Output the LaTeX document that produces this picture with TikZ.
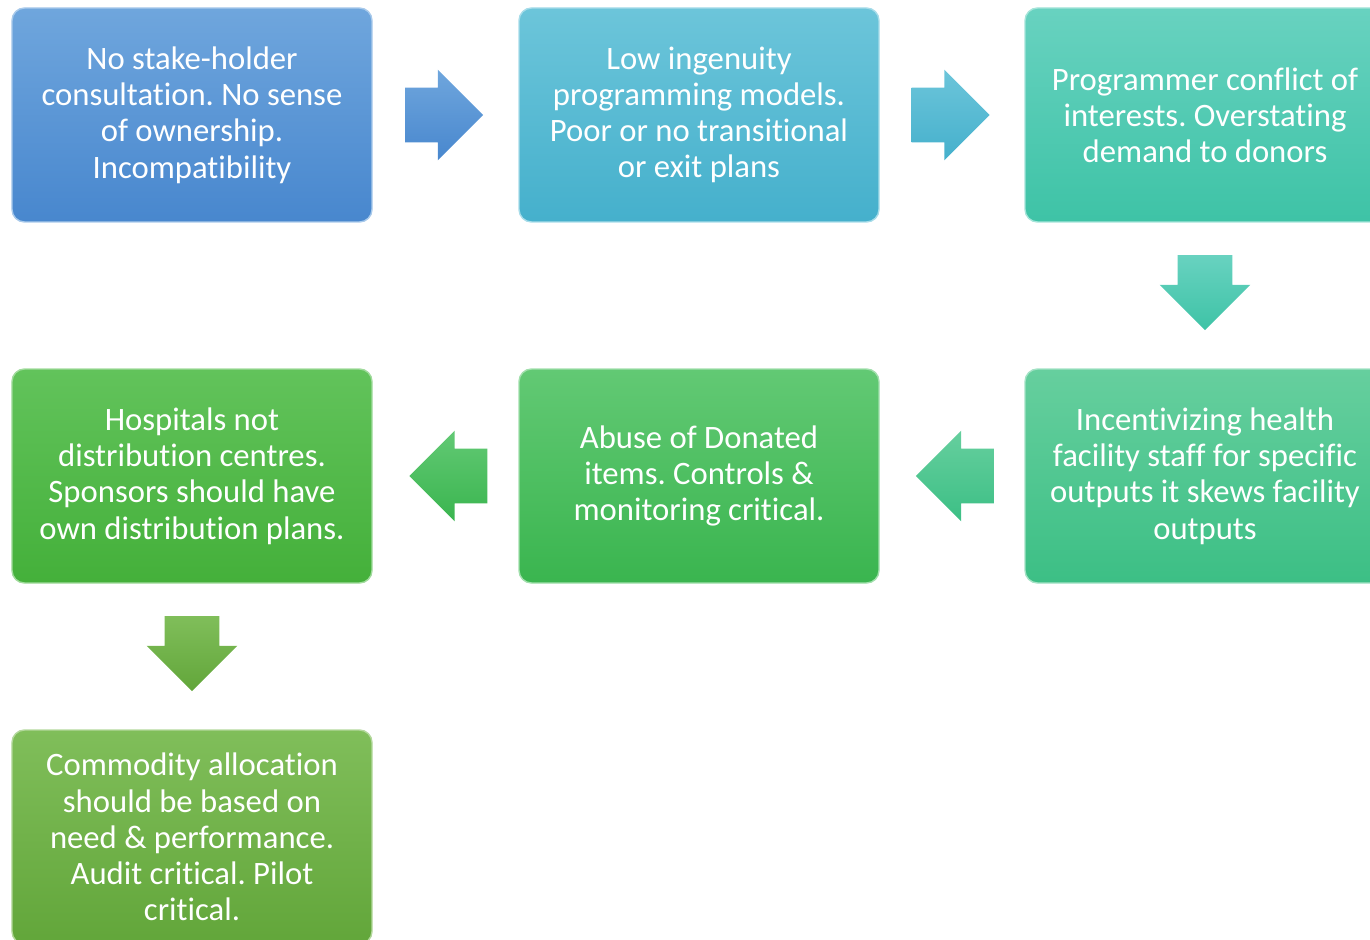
\documentclass[tikz,border=0pt]{standalone}
\usepackage{fontspec}
\setmainfont{Carlito}[Ligatures=NoCommon]
\frenchspacing
\usetikzlibrary{shapes, arrows, positioning}
\definecolor{blueTop}{HTML}{6FA6DD}
\definecolor{blueBot}{HTML}{4887CE}
\definecolor{cyanTop}{HTML}{6CC5DA}
\definecolor{cyanBot}{HTML}{45B0CC}
\definecolor{tealTop}{HTML}{68D2C0}
\definecolor{tealBot}{HTML}{3EC3A6}
\definecolor{mintTop}{HTML}{66CF9E}
\definecolor{mintBot}{HTML}{3CBF85}
\definecolor{greenTop}{HTML}{62C974}
\definecolor{greenBot}{HTML}{3AB54F}
\definecolor{leafTop}{HTML}{62C35B}
\definecolor{leafBot}{HTML}{44B03A}
\definecolor{oliveTop}{HTML}{80BE5A}
\definecolor{oliveBot}{HTML}{62A63A}

\begin{document}
\begin{tikzpicture}[
        issue/.style={rectangle, rounded corners=0.25cm, minimum width=7.2cm, minimum height=4.28cm, align=center, text=white, font=\fontsize{18.6}{20.6}\selectfont, line width=0.8pt},
        blockarrow/.style={single arrow, single arrow head extend=0.36cm, minimum width=1.8cm, minimum height=1.56cm, draw=none},
        rightarrow/.style={blockarrow, inner xsep=0pt, inner ysep=0.54cm, xshift=-0.3cm},
        leftarrow/.style={blockarrow, shape border rotate=180, inner xsep=0pt, inner ysep=0.54cm, xshift=0.33cm},
        downarrow/.style={blockarrow, shape border rotate=270, minimum height=1.5cm, inner xsep=0.54cm, inner ysep=0pt, yshift=0.33cm}
    ]
        \useasboundingbox (0,0) rectangle (27.4,-18.8);

        \node[issue, top color=blueTop, bottom color=blueBot, draw=blueTop!60!white] (consult) at (3.84, -2.3) {No stake-holder\\consultation. No sense\\of ownership.\\Incompatibility};
        \node[issue, top color=cyanTop, bottom color=cyanBot, draw=cyanTop!60!white] (ingenuity) at (13.98, -2.3) {Low ingenuity\\programming models.\\Poor or no transitional\\or exit plans};
        \node[issue, top color=tealTop, bottom color=tealBot, draw=tealTop!60!white] (conflict) at (24.1, -2.3) {Programmer conflict of\\interests. Overstating\\demand to donors};
        \node[issue, top color=mintTop, bottom color=mintBot, draw=mintTop!60!white] (incentive) at (24.1, -9.52) {Incentivizing health\\facility staff for specific\\outputs it skews facility\\outputs};
        \node[issue, top color=greenTop, bottom color=greenBot, draw=greenTop!60!white] (abuse) at (13.98, -9.52) {Abuse of Donated\\items. Controls \&\\monitoring critical.};
        \node[issue, top color=leafTop, bottom color=leafBot, draw=leafTop!60!white] (hospital) at (3.84, -9.52) {Hospitals not\\distribution centres.\\Sponsors should have\\own distribution plans.};
        \node[issue, top color=oliveTop, bottom color=oliveBot, draw=oliveTop!60!white] (allocation) at (3.84, -16.74) {Commodity allocation\\should be based on\\need \& performance.\\Audit critical. Pilot\\critical.};

        \path (consult) -- node[rightarrow, top color=blueTop, bottom color=blueBot] {} (ingenuity);
        \path (ingenuity) -- node[rightarrow, top color=cyanTop, bottom color=cyanBot] {} (conflict);
        \path (conflict) -- node[downarrow, top color=tealTop, bottom color=tealBot] {} (incentive);
        \path (incentive) -- node[leftarrow, top color=mintTop, bottom color=mintBot] {} (abuse);
        \path (abuse) -- node[leftarrow, top color=greenTop, bottom color=greenBot] {} (hospital);
        \path (hospital) -- node[downarrow, top color=oliveTop, bottom color=oliveBot] {} (allocation);
    \end{tikzpicture}
\end{document}
